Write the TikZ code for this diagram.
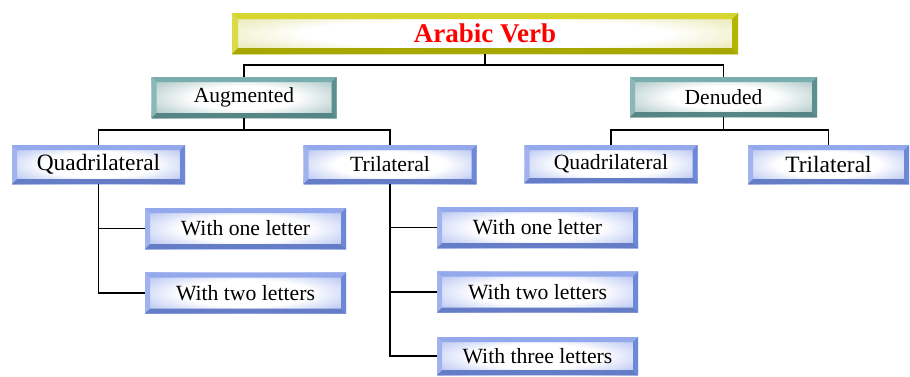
\documentclass[tikz,border=0pt]{standalone}
\usepackage{fontspec}
\setmainfont{Liberation Serif}
% bevel and glow colours
\definecolor{ylight}{HTML}{D6D62E}
\definecolor{ydark}{HTML}{B5B500}
\definecolor{yedge}{HTML}{DCDC88}
\definecolor{tlight}{HTML}{7AAEAE}
\definecolor{tdark}{HTML}{5C9090}
\definecolor{tedge}{HTML}{98B8B8}
\definecolor{blight}{HTML}{93A9EC}
\definecolor{bdark}{HTML}{6E88D8}
\definecolor{bedge}{HTML}{9CAFEE}
\definecolor{titlered}{HTML}{FF0000}
\pgfdeclareradialshading{glowyellow}{\pgfpoint{0bp}{0bp}}{color(0bp)=(white);color(18bp)=(white);color(38bp)=(yedge);color(50bp)=(yedge)}
\pgfdeclareradialshading{glowteal}{\pgfpoint{0bp}{0bp}}{color(0bp)=(white);color(14bp)=(white);color(36bp)=(tedge);color(50bp)=(tedge)}
\pgfdeclareradialshading{glowblue}{\pgfpoint{0bp}{0bp}}{color(0bp)=(white);color(16bp)=(white);color(37bp)=(bedge);color(50bp)=(bedge)}
\tikzset{
  % raised box: #1 light bevel, #2 dark bevel, #3 bevel width, #4 inner shading
  bevel/.style n args={4}{
    rectangle, inner sep=0pt, shading=#4,
    path picture={
      \path (path picture bounding box.north west) coordinate (bnw)
            (path picture bounding box.north east) coordinate (bne)
            (path picture bounding box.south west) coordinate (bsw)
            (path picture bounding box.south east) coordinate (bse);
      \fill[#1] (bnw) -- (bne) -- ([xshift=-#3,yshift=-#3]bne) -- ([xshift=#3,yshift=-#3]bnw) -- cycle;
      \fill[#1!88!white] (bnw) -- ([xshift=#3,yshift=-#3]bnw) -- ([xshift=#3,yshift=#3]bsw) -- (bsw) -- cycle;
      \fill[#2] (bne) -- (bse) -- ([xshift=-#3,yshift=#3]bse) -- ([xshift=-#3,yshift=-#3]bne) -- cycle;
      \fill[#2!92!black] (bsw) -- (bse) -- ([xshift=-#3,yshift=#3]bse) -- ([xshift=#3,yshift=#3]bsw) -- cycle;
    }},
  titlebox/.style={bevel={ylight}{ydark}{6pt}{glowyellow}, minimum width=506pt, minimum height=41pt,
    font=\fontsize{27}{30}\selectfont\bfseries, text=titlered},
  groupbox/.style={bevel={tlight}{tdark}{5pt}{glowteal}, minimum width=185pt, minimum height=41pt,
    font=\fontsize{21.5}{24}\selectfont},
  kindbox/.style={bevel={blight}{bdark}{5pt}{glowblue}, minimum width=173pt, minimum height=39pt,
    font=\fontsize{21.7}{24}\selectfont},
  bigkind/.style={kindbox, font=\fontsize{23.4}{26}\selectfont},
  leafbox/.style={bevel={blight}{bdark}{5pt}{glowblue}, minimum width=201pt, minimum height=41pt,
    font=\fontsize{21.7}{24}\selectfont},
  link/.style={line width=1.5pt, black},
}
\begin{document}
\begin{tikzpicture}[x=1pt, y=-1pt]
  \useasboundingbox (0,0) rectangle (910,376);

  % top level
  \node[titlebox] (verb) at (485,33.5) {Arabic Verb};

  % second level
  \node[groupbox] (aug) at (244,97.5) {Augmented};
  \node[groupbox, minimum width=187pt, minimum height=40pt] (den) at (723.5,97) {Denuded};

  % third level
  \node[bigkind] (lq) at (98.5,164.5) {Quadrilateral};
  \node[kindbox] (lt) at (390,164.5) {Trilateral};
  \node[kindbox, minimum height=38pt] (rq) at (611,164) {Quadrilateral};
  \node[bigkind, minimum width=161pt] (rt) at (828.5,164.5) {Trilateral};

  % leaves
  \node[leafbox] (lq1) at (245.5,228.5) {With one letter};
  \node[leafbox] (lq2) at (245.5,293) {With two letters};
  \node[leafbox] (lt1) at (537.5,227.5) {With one letter};
  \node[leafbox] (lt2) at (537.5,292) {With two letters};
  \node[leafbox, minimum height=38pt] (lt3) at (537.5,356) {With three letters};

  % connectors
  \draw[link] (verb.south) -- ++(0,11);
  \draw[link] (aug.north) -- ++(0,-12) -| (den.north);

  \draw[link] (aug.south) -- ++(0,12);
  \draw[link] (lq.north) -- ++(0,-15) -| (lt.north);

  \draw[link] (den.south) -- ++(0,13);
  \draw[link] (rq.north) -- ++(0,-15) -| (rt.north);

  \draw[link] (lq.south) |- (lq1.west);
  \draw[link] (lq.south) |- (lq2.west);

  \draw[link] (lt.south) |- (lt1.west);
  \draw[link] (lt.south) |- (lt2.west);
  \draw[link] (lt.south) |- (lt3.west);
\end{tikzpicture}
\end{document}
